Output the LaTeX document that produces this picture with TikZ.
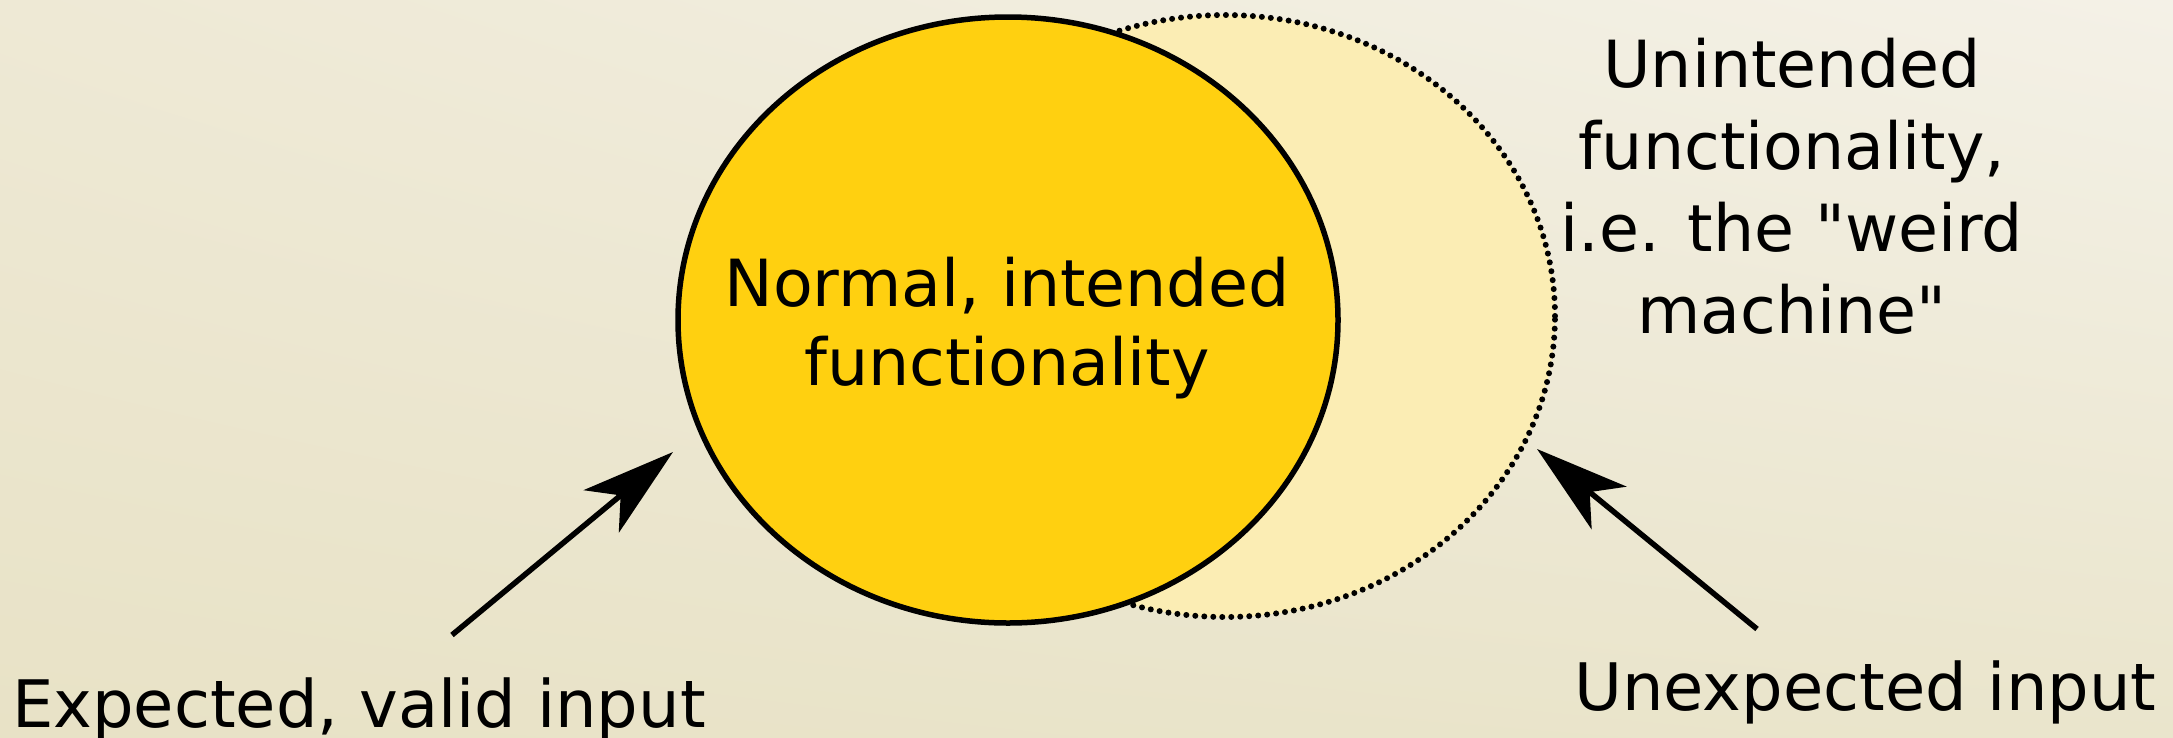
\documentclass[tikz,border=0pt]{standalone}
\usepackage{fontspec}
\setmainfont{DejaVu Sans}[Ligatures=TeXOff]
\usetikzlibrary{shapes.geometric,arrows.meta,shadings}
\definecolor{bgul}{HTML}{EEE9D5}
\definecolor{bgur}{HTML}{F4F1E7}
\definecolor{bgll}{HTML}{E8E2C6}
\definecolor{bglr}{HTML}{EAE5CC}
\definecolor{gold}{HTML}{FFD010}
\definecolor{pale}{HTML}{FBEDB4}
\begin{document}
\begin{tikzpicture}[x=1pt,y=-1pt,
  lbl/.style={inner sep=0pt, align=center},
  arr/.style={line width=5.5pt, -{Stealth[length=93pt,width=55pt,inset=25pt]}},
  oval/.style={ellipse, inner sep=0pt, minimum width=660pt},
]
\shade[upper left=bgul, upper right=bgur, lower left=bgll, lower right=bglr] (0,0) rectangle (2173,737);
\useasboundingbox (0,0) rectangle (2173,737);
\node[oval, fill=pale, draw=black, line width=6pt, dash pattern=on 0pt off 9pt, line cap=round, minimum height=602pt] (weird) at (1225,316) {};
\node[oval, fill=gold, draw=black, line width=5.5pt, minimum height=606pt] (normal) at (1008,320) {};
\node[lbl, anchor=base, font=\fontsize{65}{79}\selectfont] (ntext) at (1007,385) {Normal, intended\\functionality};
\node[lbl, anchor=base, font=\fontsize{65}{82}\selectfont] (wtext) at (1792,333) {Unintended\\functionality,\\i.e. the "weird\\machine"};
\node[lbl, anchor=base west, font=\fontsize{65.5}{80}\selectfont] (exp) at (12,727) {Expected, valid input};
\node[lbl, anchor=base west, font=\fontsize{65.5}{80}\selectfont] (unexp) at (1574,710) {Unexpected input};
\coordinate (exptail) at (452,635);
\coordinate (exptip) at (673,452);
\coordinate (unexptail) at (1757,629);
\coordinate (unexptip) at (1537,449);
\draw[arr] (exptail) -- (exptip);
\draw[arr] (unexptail) -- (unexptip);
\end{tikzpicture}
\end{document}
